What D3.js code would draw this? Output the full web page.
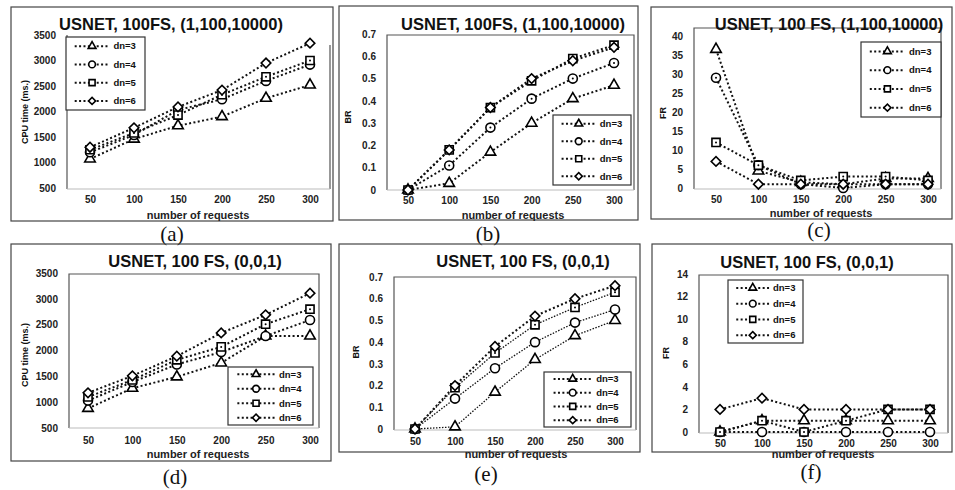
<!DOCTYPE html>
<html>
<head>
<meta charset="utf-8">
<script src="https://cdn.jsdelivr.net/npm/d3@7"></script>
<style>
  body { margin: 0; background: #fff; }
  svg text { font-family: "Liberation Sans", Arial, sans-serif; }
</style>
</head>
<body>
<svg id="chart" width="955" height="490"></svg>
<script>
// Categories and legend names
const requests = [50, 100, 150, 200, 250, 300];
const dnNames = ["dn=3", "dn=4", "dn=5", "dn=6"];

// Tick labels
const cpuTicks = [500, 1000, 1500, 2000, 2500, 3000, 3500];
const brTicks = [0, 0.1, 0.2, 0.3, 0.4, 0.5, 0.6, 0.7];
const frTicksC = [0, 5, 10, 15, 20, 25, 30, 35, 40];
const frTicksF = [0, 2, 4, 6, 8, 10, 12, 14];

// Series values (rows: dn=3, dn=4, dn=5, dn=6)
const cpuA = [
  [1070, 1460, 1720, 1900, 2260, 2520],
  [1200, 1540, 2030, 2240, 2600, 2920],
  [1250, 1580, 1930, 2330, 2680, 3000],
  [1300, 1680, 2090, 2420, 2950, 3340]
];
const brB = [
  [0, 0.03, 0.17, 0.30, 0.41, 0.47],
  [0, 0.11, 0.28, 0.41, 0.50, 0.57],
  [0, 0.18, 0.37, 0.49, 0.59, 0.65],
  [0, 0.18, 0.37, 0.50, 0.58, 0.64]
];
const frC = [
  [36.5, 4.5, 1.5, 1, 2.5, 2.5],
  [29, 6, 1, 0, 1, 1],
  [12, 6, 2, 3, 3, 2],
  [7, 1, 1, 1, 1, 1]
];
const cpuD = [
  [880, 1270, 1490, 1760, 2280, 2280],
  [1030, 1390, 1730, 1970, 2280, 2590],
  [1100, 1430, 1820, 2070, 2510, 2800],
  [1180, 1510, 1890, 2340, 2690, 3110]
];
const brE = [
  [0, 0.01, 0.17, 0.32, 0.43, 0.50],
  [0, 0.14, 0.28, 0.40, 0.49, 0.55],
  [0, 0.19, 0.35, 0.48, 0.56, 0.63],
  [0, 0.20, 0.38, 0.52, 0.60, 0.66]
];
const frF = [
  [0, 1, 1, 1, 1, 1],
  [0, 0, 0, 0, 0, 0],
  [0, 1, 0, 1, 2, 2],
  [2, 3, 2, 2, 2, 2]
];

// Panel layout
const panels = [
  { data: cpuA, ticks: cpuTicks, yDom: [500, 3500], yRange: [188, 35], xRange: [90, 310],
    border: [11, 7, 333, 221], plot: [67, 35, 330, 189], boxTop: false,
    title: "USNET, 100FS, (1,100,10000)", tx: 171, ty: 30,
    yLabel: "CPU time (ms.)", ylx: 25, yly: 112, xlx: 198, xly: 219, tickY: 204,
    caption: "(a)", cx: 172, cy: 241, legend: [66, 37, 145, 110],
    lw: [2, 2, 2, 2], dotCircle: false },
  { data: brB, ticks: brTicks, yDom: [0, 0.7], yRange: [190, 34], xRange: [408, 614],
    border: [339, 6, 638, 220], plot: [387, 35, 634, 190], boxTop: true,
    title: "USNET, 100FS, (1,100,10000)", tx: 513, ty: 30,
    yLabel: "BR", ylx: 348, yly: 117, xlx: 513, xly: 219, tickY: 205,
    caption: "(b)", cx: 488, cy: 241, legend: [553, 115, 631, 185],
    lw: [2, 2, 2, 2], dotCircle: true },
  { data: frC, ticks: frTicksC, yDom: [0, 40], yRange: [188, 36], xRange: [716, 928],
    border: [651, 7, 952, 219], plot: [694, 28, 941, 189], boxTop: true,
    title: "USNET, 100 FS, (1,100,10000)", tx: 829, ty: 30,
    yLabel: "FR", ylx: 663, yly: 113, xlx: 821, xly: 217, tickY: 204,
    caption: "(c)", cx: 819, cy: 237, legend: [861, 42, 941, 117],
    lw: [2, 2, 2, 2], dotCircle: true },
  { data: cpuD, ticks: cpuTicks, yDom: [500, 3500], yRange: [428, 273], xRange: [88, 310],
    border: [11, 244, 331, 461], plot: [69, 274, 319, 428], boxTop: true,
    title: "USNET, 100 FS, (0,0,1)", tx: 195, ty: 267,
    yLabel: "CPU time (ms.)", ylx: 25, yly: 355, xlx: 198, xly: 458, tickY: 445,
    caption: "(d)", cx: 175, cy: 484, legend: [228, 367, 313, 425],
    lw: [2, 2, 2, 2], dotCircle: false },
  { data: brE, ticks: brTicks, yDom: [0, 0.7], yRange: [429, 277], xRange: [415, 615],
    border: [339, 244, 640, 452], plot: [394, 277, 636, 430], boxTop: true,
    title: "USNET, 100 FS, (0,0,1)", tx: 523, ty: 267,
    yLabel: "BR", ylx: 356, yly: 352, xlx: 516, xly: 458, tickY: 446,
    caption: "(e)", cx: 486, cy: 481, legend: [544, 372, 631, 427],
    lw: [1.3, 1.3, 1.3, 2], dotCircle: false },
  { data: frF, ticks: frTicksF, yDom: [0, 14], yRange: [432, 274], xRange: [720, 930],
    border: [652, 244, 952, 452], plot: [699, 275, 948, 433], boxTop: true,
    title: "USNET, 100 FS, (0,0,1)", tx: 807, ty: 268,
    yLabel: "FR", ylx: 666, yly: 353, xlx: 823, xly: 458, tickY: 448,
    caption: "(f)", cx: 811, cy: 479, legend: [728, 280, 803, 343],
    lw: [2, 2, 2, 2], dotCircle: false }
];

const svg = d3.select("#chart");
svg.append("rect").attr("width", 955).attr("height", 490).attr("fill", "#fff");

const symbols = [d3.symbolTriangle, d3.symbolCircle, d3.symbolSquare, d3.symbolSquare];
const symbolSize = [48, 64, 66, 46];
const rotate = [0, 0, 0, 45];

// Draw one marker (hollow, black outline)
function marker(g, i, x, y, scale, dotCenter) {
  const m = g.append("g")
    .attr("transform", `translate(${x},${y}) rotate(${rotate[i]})`);
  m.append("path")
    .attr("d", d3.symbol().type(symbols[i]).size(symbolSize[i] * scale)())
    .attr("fill", "#fff")
    .attr("stroke", "#000")
    .attr("stroke-width", 1.6);
  if (dotCenter) {
    m.append("circle").attr("r", 1).attr("fill", "#000");
  }
}

panels.forEach(p => {
  const g = svg.append("g");

  // Outer frame
  g.append("rect")
    .attr("x", p.border[0]).attr("y", p.border[1])
    .attr("width", p.border[2] - p.border[0]).attr("height", p.border[3] - p.border[1])
    .attr("fill", "none").attr("stroke", "#444").attr("stroke-width", 1.2);

  const x = d3.scalePoint().domain(requests).range(p.xRange);
  const y = d3.scaleLinear().domain(p.yDom).range(p.yRange);

  // Plot box
  const [px0, py0, px1, py1] = p.plot;
  const boxPath = p.boxTop
    ? `M${px0},${py1}V${py0}H${px1}V${py1}`
    : `M${px0},${py1}V${py0}M${px1},${py0 + 10}V${py1}`;
  g.append("path").attr("d", boxPath)
    .attr("fill", "none").attr("stroke", "#555").attr("stroke-width", 1.2);
  g.append("line")
    .attr("x1", px0).attr("x2", px1).attr("y1", py1).attr("y2", py1)
    .attr("stroke", "#bbb").attr("stroke-width", 1);

  // Axes
  const yAxis = g.append("g")
    .attr("transform", `translate(${px0},0)`)
    .call(d3.axisLeft(y).tickValues(p.ticks).tickSize(0).tickPadding(11).tickFormat(d => String(d)));
  const xAxis = g.append("g")
    .attr("transform", `translate(0,${py1})`)
    .call(d3.axisBottom(x).tickSize(0).tickPadding(p.tickY - py1 - 8));
  [yAxis, xAxis].forEach(a => {
    a.select(".domain").remove();
    a.selectAll("text")
      .attr("font-family", "Liberation Sans, Arial, sans-serif")
      .attr("font-size", 10).attr("font-weight", "bold").attr("fill", "#222");
  });

  // Title and labels
  g.append("text").attr("x", p.tx).attr("y", p.ty)
    .attr("text-anchor", "middle").attr("font-size", 16.5).attr("font-weight", "bold")
    .attr("fill", "#111").text(p.title);
  g.append("text")
    .attr("transform", `translate(${p.ylx},${p.yly}) rotate(-90)`)
    .attr("text-anchor", "middle").attr("dy", "0.35em")
    .attr("font-size", 9).attr("font-weight", "bold").attr("fill", "#111")
    .text(p.yLabel);
  g.append("text").attr("x", p.xlx).attr("y", p.xly)
    .attr("text-anchor", "middle").attr("font-size", 11).attr("font-weight", "bold")
    .attr("fill", "#222").text("number of requests");
  g.append("text").attr("x", p.cx).attr("y", p.cy)
    .attr("text-anchor", "middle").attr("font-family", "Liberation Serif, Times New Roman, serif")
    .style("font-family", "'Liberation Serif', 'Times New Roman', serif")
    .attr("font-size", 21).attr("fill", "#111").text(p.caption);

  // Lines and markers
  const line = d3.line().x((d, i) => x(requests[i])).y(d => y(d));
  p.data.forEach((series, si) => {
    g.append("path").datum(series)
      .attr("d", line)
      .attr("fill", "none").attr("stroke", "#111")
      .attr("stroke-width", p.lw[si])
      .attr("stroke-dasharray", p.lw[si] < 2 ? "1.5,1.5" : "2,2.4");
  });
  p.data.forEach((series, si) => {
    series.forEach((v, i) => {
      marker(g, si, x(requests[i]), y(v), 1, si === 2 || (si === 1 && p.dotCircle));
    });
  });

  // Legend
  const [lx0, ly0, lx1, ly1] = p.legend;
  const lg = g.append("g");
  lg.append("rect").attr("x", lx0).attr("y", ly0)
    .attr("width", lx1 - lx0).attr("height", ly1 - ly0)
    .attr("fill", "#fff").attr("stroke", "#333").attr("stroke-width", 1.2);
  const lw = lx1 - lx0;
  dnNames.forEach((name, si) => {
    const ry = ly0 + (ly1 - ly0) * (si + 0.5) / 4;
    const sx0 = lx0 + lw * 0.11, sx1 = lx0 + lw * 0.55;
    lg.append("line").attr("x1", sx0).attr("x2", sx1).attr("y1", ry).attr("y2", ry)
      .attr("stroke", "#111").attr("stroke-width", 2).attr("stroke-dasharray", "2,2.4");
    marker(lg, si, (sx0 + sx1) / 2, ry, 0.55, false);
    lg.append("text").attr("x", lx0 + lw * 0.6).attr("y", ry).attr("dy", "0.35em")
      .attr("font-size", 9.5).attr("font-weight", "bold").attr("fill", "#111").text(name);
  });
});
</script>
</body>
</html>
